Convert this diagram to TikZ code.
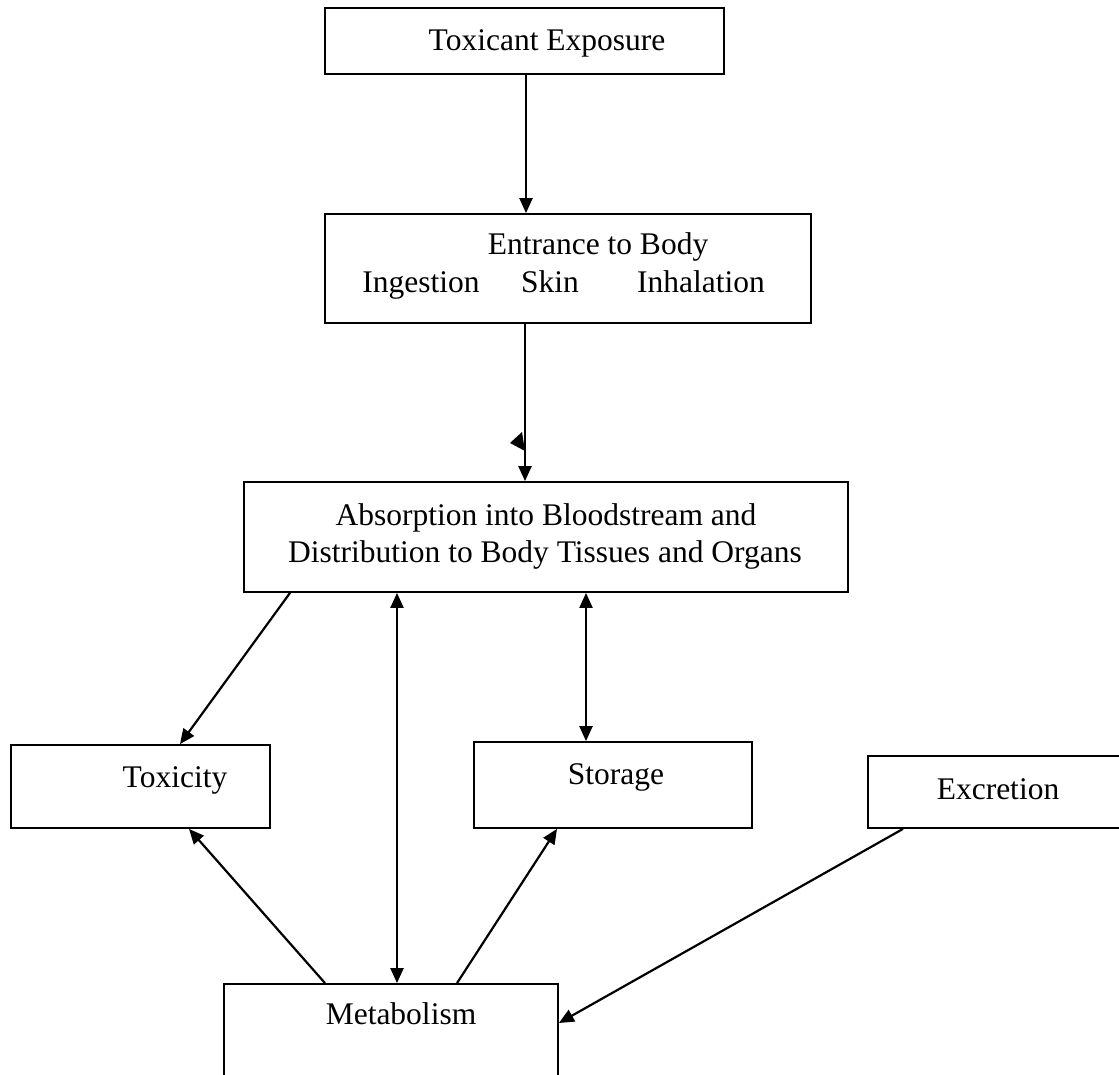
\documentclass[tikz,border=0pt]{standalone}
\usepackage{fontspec}
\setmainfont{Liberation Serif}
\usetikzlibrary{arrows.meta}
\begin{document}
\begin{tikzpicture}[x=1pt,y=-1pt,
  box/.style={draw, line width=1.8pt, rectangle, inner sep=0pt},
  lbl/.style={anchor=base, inner sep=0pt, font=\fontsize{31.5}{37}\selectfont},
  arr/.style={line width=2.2pt, -{Triangle[length=15pt,width=13pt]}},
  darr/.style={line width=2.2pt, {Triangle[length=15pt,width=13pt]}-{Triangle[length=15pt,width=13pt]}}]
\useasboundingbox (0,0) rectangle (1119,1074);
\clip (0,0) rectangle (1119,1074);
\fill[white] (0,0) rectangle (1119,1074);

% boxes
\node[box, minimum width=399pt, minimum height=66pt] (tox) at (524.5,41) {};
\node[box, minimum width=486pt, minimum height=109pt] (ent) at (568,268.5) {};
\node[box, minimum width=604pt, minimum height=110pt] (abs) at (546,537) {};
\node[box, minimum width=259pt, minimum height=83pt] (toxy) at (140.5,786.5) {};
\node[box, minimum width=278pt, minimum height=86pt] (sto) at (613,785) {};
\node[box, minimum width=262pt, minimum height=72pt] (exc) at (999,792) {};
\node[box, minimum width=334pt, minimum height=140pt] (met) at (391,1054) {};

% labels
\node[lbl] (ttox) at (547,50) {Toxicant Exposure};
\node[lbl] (tent) at (598,254) {Entrance to Body};
\node[lbl] (ting) at (421,292) {Ingestion};
\node[lbl] (tskin) at (550,292) {Skin};
\node[lbl] (tinh) at (701,292) {Inhalation};
\node[lbl] (tabs1) at (546,525) {Absorption into Bloodstream and};
\node[lbl] (tabs2) at (545,562) {Distribution to Body Tissues and Organs};
\node[lbl] (ttoxy) at (175,787) {Toxicity};
\node[lbl] (tsto) at (616,784) {Storage};
\node[lbl] (texc) at (998,799) {Excretion};
\node[lbl] (tmet) at (401,1024) {Metabolism};

% connectors
\draw[arr] (tox.south -| 526,0) -- (ent.north -| 526,0);
\draw[arr] (ent.south -| 525,0) -- (abs.north -| 525,0);
\fill (510,443) -- (522,432) -- (525,451) -- cycle;
\draw[arr] (abs.south -| 290,0) -- (toxy.north -| 180,0);
\draw[darr] (abs.south -| 397,0) -- (met.north -| 397,0);
\draw[darr] (abs.south -| 586,0) -- (sto.north -| 586,0);
\draw[arr] (met.north -| 325,0) -- (toxy.south -| 189,0);
\draw[arr] (met.north -| 457,0) -- (sto.south -| 557,0);
\draw[arr] (exc.south -| 903,0) -- (met.east |- 0,1023);
\end{tikzpicture}
\end{document}
